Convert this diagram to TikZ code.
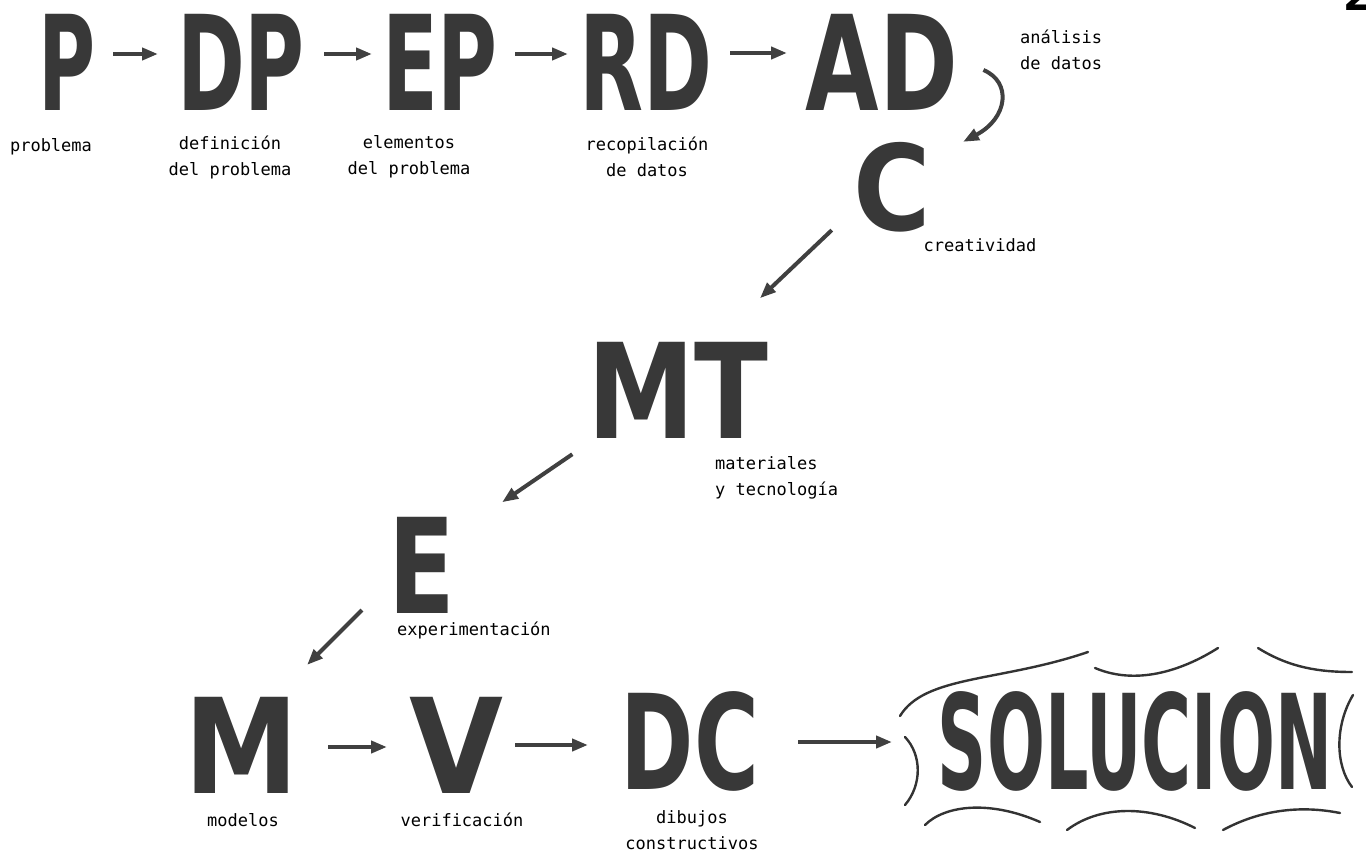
\documentclass[tikz,border=0pt]{standalone}
\usepackage{fontspec}
\setsansfont{DejaVu Sans}
\setmonofont{DejaVu Sans Mono}
\usetikzlibrary{arrows.meta}
\newcommand{\bigletters}{\fontsize{132}{132}\selectfont\sffamily\bfseries}
\newcommand{\labeltext}{\fontsize{17}{26}\selectfont\ttfamily}
\newcommand{\squeeze}[2]{\scalebox{#1}[1]{#2}}
\tikzset{
  letters/.style={font=\bigletters, text=black!78, inner sep=0pt},
  lbl/.style={font=\labeltext, align=center, inner sep=0pt},
  flow/.style={-{Triangle[length=16pt,width=12pt]}, line width=4pt, draw=black!75},
  frame/.style={line width=2.4pt, draw=black!80, line cap=round},
}

\begin{document}
\begin{tikzpicture}[x=1pt, y=-1pt]
\useasboundingbox (0,0) rectangle (1366,851);

\node[font=\fontsize{40}{40}\selectfont\sffamily\bfseries, anchor=south west, inner sep=0pt] (pagenum) at (1343,11) {2};

\node[letters] (p) at (67,62) {\squeeze{0.59}{P}};
\node[letters] (dp) at (241,62) {\squeeze{0.62}{DP}};
\node[letters] (ep) at (440,62) {\squeeze{0.62}{EP}};
\node[letters] (rd) at (646,62) {\squeeze{0.63}{RD}};
\node[letters] (ad) at (882,62) {\squeeze{0.72}{AD}};
\node[letters] (c) at (892,187) {\scalebox{0.8}[0.9]{C}};
\node[letters] (mt) at (678,390) {\squeeze{0.82}{MT}};
\node[letters] (e) at (422,565) {\squeeze{0.74}{E}};
\node[letters] (m) at (242,745) {\squeeze{0.87}{M}};
\node[letters] (v) at (456,745) {\squeeze{0.92}{V}};
\node[letters] (dc) at (690,741) {\squeeze{0.67}{DC}};
\node[letters] (sol) at (1135,741) {\squeeze{0.517}{SOLUCION}};

\node[lbl] (p-txt) at (51,147) {problema};
\node[lbl] (dp-txt) at (230,157) {definición\\del problema};
\node[lbl] (ep-txt) at (409,157) {elementos\\del problema};
\node[lbl] (rd-txt) at (647,157) {recopilación\\de datos};
\node[lbl, anchor=west, align=left] (ad-txt) at (1020,50) {análisis\\de datos};
\node[lbl] (c-txt) at (980,245) {creatividad};
\node[lbl, anchor=west, align=left] (mt-txt) at (715,478) {materiales\\y tecnología};
\node[lbl, anchor=west] (e-txt) at (397,630) {experimentación};
\node[lbl] (m-txt) at (243,820) {modelos};
\node[lbl] (v-txt) at (462,820) {verificación};
\node[lbl] (dc-txt) at (692,830) {dibujos\\constructivos};

\draw[flow, shorten <=46pt, shorten >=83pt] ([yshift=8pt]p.center) -- ([yshift=8pt]dp.center);
\draw[flow, shorten <=83pt, shorten >=68pt] ([yshift=8pt]dp.center) -- ([yshift=8pt]ep.center);
\draw[flow, shorten <=75pt, shorten >=78pt] ([yshift=8pt]ep.center) -- ([yshift=8pt]rd.center);
\draw[flow, shorten <=84pt, shorten >=95pt] ([yshift=9pt]rd.center) -- ([yshift=9pt]ad.center);
\draw[flow] ([shift={(25,8)}]ad.east) .. controls (1012,82) and (1008,118) .. ([shift={(71,0)}]c.north);
\draw[flow, shorten <=83pt, shorten >=113pt] ([yshift=14pt]c.center) -- ([yshift=14pt]mt.center);
\draw[flow, shorten <=128pt, shorten >=97pt] ([yshift=8pt]mt.center) -- ([yshift=8pt]e.center);
\draw[flow, shorten <=85pt, shorten >=92pt] ([yshift=15pt]e.center) -- ([yshift=15pt]m.center);
\draw[flow, shorten <=86pt, shorten >=69pt] ([yshift=-2pt]m.center) -- ([yshift=-2pt]v.center);
\draw[flow, shorten <=59pt, shorten >=102pt] (v.center) -- ([yshift=-4pt]dc.center);
\draw[flow, shorten <=108pt, shorten >=243pt] ([yshift=-1pt]dc.center) -- ([yshift=-1pt]sol.center);

\draw[frame] (900,716) .. controls (925,675) and (1000,682) .. (1088,652);
\draw[frame] (1095,668) .. controls (1135,685) and (1180,672) .. (1218,648);
\draw[frame] (1258,648) .. controls (1290,668) and (1320,672) .. (1352,672);
\draw[frame] (925,825) .. controls (945,805) and (990,800) .. (1040,822);
\draw[frame] (1067,830) .. controls (1100,805) and (1150,805) .. (1195,828);
\draw[frame] (1223,830) .. controls (1260,810) and (1300,805) .. (1340,813);
\draw[frame] (905,737) .. controls (922,755) and (922,785) .. (905,805);
\draw[frame] (1353,695) .. controls (1335,725) and (1335,765) .. (1352,787);
\end{tikzpicture}
\end{document}
